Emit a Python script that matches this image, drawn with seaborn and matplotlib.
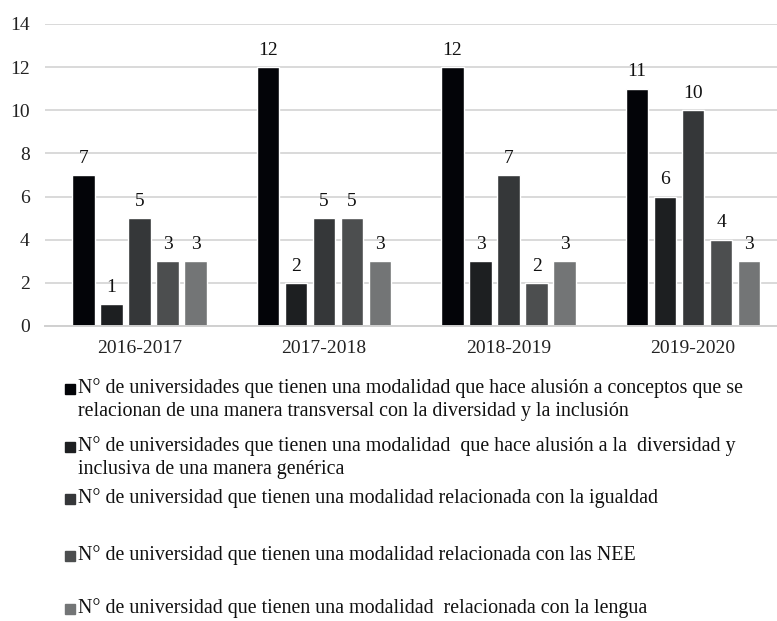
import pandas as pd
import matplotlib.pyplot as plt
from matplotlib.patches import Rectangle
import seaborn as sns

# Datos
years = ['2016-2017', '2017-2018', '2018-2019', '2019-2020']
transversal = [7, 12, 12, 11]
generica = [1, 2, 3, 6]
igualdad = [5, 5, 7, 10]
nee = [3, 5, 2, 4]
lengua = [3, 3, 3, 3]

series_labels = [
    'N° de universidades que tienen una modalidad que hace alusión a conceptos que se\n'
    'relacionan de una manera transversal con la diversidad y la inclusión',
    'N° de universidades que tienen una modalidad  que hace alusión a la  diversidad y\n'
    'inclusiva de una manera genérica',
    'N° de universidad que tienen una modalidad relacionada con la igualdad',
    'N° de universidad que tienen una modalidad relacionada con las NEE',
    'N° de universidad que tienen una modalidad  relacionada con la lengua',
]
colors = ['#030408', '#1d1f21', '#353739', '#4c4e4f', '#737576']

W, H = 777, 621

sns.set_theme(style='white')
plt.rcParams['font.family'] = ['Liberation Serif', 'DejaVu Serif']

rows = []
for name, vals in zip(series_labels, [transversal, generica, igualdad, nee, lengua]):
    for y, v in zip(years, vals):
        rows.append({'year': y, 'serie': name, 'valor': v})
df = pd.DataFrame(rows)

fig = plt.figure(figsize=(W / 100, H / 100), dpi=100)
ax = fig.add_axes([45 / W, 1 - 326 / H, 732 / W, 302 / H])

sns.barplot(data=df, x='year', y='valor', hue='serie', hue_order=series_labels,
            palette=colors, width=0.76, gap=0.2, saturation=1, legend=False, ax=ax)

for cont in ax.containers:
    ax.bar_label(cont, padding=6, fontsize=14, color='#111111')

ax.set_ylim(0, 14)
ax.set_xlim(-0.512, 3.455)
ax.set_yticks(range(0, 15, 2))
ax.yaxis.grid(True, color='#d9d9d9', linewidth=1.4)
ax.set_axisbelow(True)
ax.set_xlabel('')
ax.set_ylabel('')
for s in ['top', 'right', 'left']:
    ax.spines[s].set_visible(False)
ax.spines['bottom'].set_color('#d0d0d0')
ax.spines['bottom'].set_linewidth(1.4)
ax.tick_params(axis='y', length=0, pad=11, labelsize=14, labelcolor='#222222')
ax.tick_params(axis='x', length=0, pad=10, labelsize=14, labelcolor='#222222')

# Leyenda manual debajo del gráfico
baselines = [395, 453, 505, 562, 615]
for lab, col, b in zip(series_labels, colors, baselines):
    fig.add_artist(Rectangle((65 / W, 1 - (b - 1) / H), 10 / W, 10 / H,
                             transform=fig.transFigure, color=col))
    fig.text(78 / W, 1 - (b - 16.5) / H, lab, fontsize=14.4, color='#111111',
             va='top', ha='left', linespacing=1.25)

fig.savefig('out.png', dpi=100)
